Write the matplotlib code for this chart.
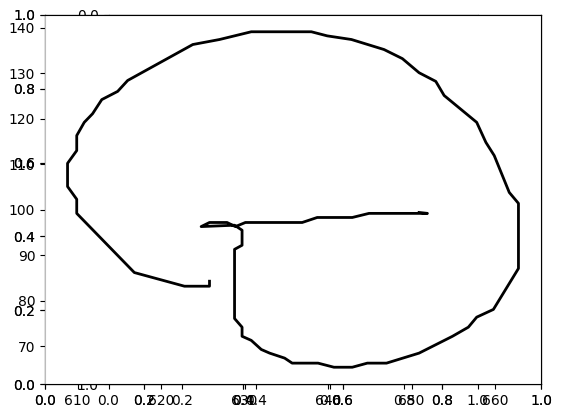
import matplotlib
matplotlib.use('Agg')
import matplotlib.pyplot as plt

# outline, in data units
xs = [625.8, 625.8, 622.8, 616.8, 609.9, 609.9, 608.8, 608.8, 609.9, 609.9,
      610.8, 611.8, 612.9, 614.8, 616.0, 623.8, 627.0, 630.8, 638.0, 639.9,
      642.8, 646.7, 648.9, 650.9, 652.9, 653.9, 657.8, 658.9, 659.9, 661.7,
      662.8, 662.8, 659.8, 657.8, 656.8, 654.9, 650.9, 647.0, 644.7, 642.9,
      640.7, 638.8, 635.7, 634.8, 633.0, 632.0, 630.8, 629.7, 629.7, 628.8,
      628.8, 629.7, 629.7, 628.8, 624.8, 625.8, 627.9, 628.9, 630.1, 636.9,
      638.7, 642.9, 644.9, 651.9, 650.9]
ys = [84.3, 83.2, 83.2, 86.2, 99.2, 102.3, 105.1, 110.2, 113.0, 116.3,
      119.2, 121.1, 124.2, 126.0, 128.4, 136.3, 137.4, 139.1, 139.1, 138.2,
      137.4, 135.2, 133.2, 130.1, 128.2, 125.1, 119.2, 114.8, 111.9, 103.8,
      101.4, 87.1, 78.1, 76.4, 74.2, 72.2, 68.5, 66.3, 66.3, 65.4,
      65.4, 66.3, 66.3, 67.4, 68.5, 69.3, 71.3, 72.2, 74.2, 76.1,
      91.3, 92.2, 95.5, 96.6, 96.3, 97.2, 97.2, 96.3, 97.2, 97.2,
      98.3, 98.3, 99.2, 99.2, 99.4]

fig = plt.figure(figsize=(5.63, 4.18), dpi=100)
rect = [45 / 563, 34 / 418, 496 / 563, 369 / 418]

# two empty axes stacked on the same spot
ax1 = fig.add_axes(rect)
ax2 = fig.add_axes(rect)

# square axes with flipped y, mostly hidden behind the plot
ax3 = fig.add_axes(rect)
ax3.set_xlim(0, 1)
ax3.set_ylim(1, 0)
ax3.set_aspect('equal')

# the actual drawing
ax4 = fig.add_axes(rect)
ax4.plot(xs, ys, color='black', linewidth=2)
ax4.spines['left'].set_color('#bbbbbb')

fig.savefig('out.png', dpi=100)
